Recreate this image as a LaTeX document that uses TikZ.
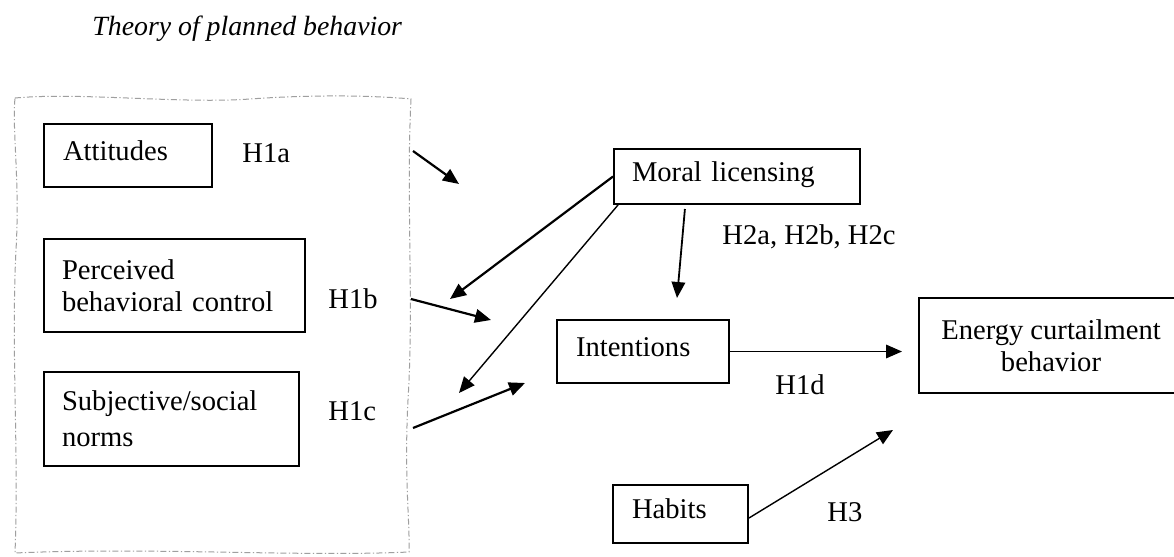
\documentclass[tikz,border=0pt]{standalone}
\usepackage{fontspec}
\setmainfont{Liberation Serif}
\usetikzlibrary{arrows.meta,calc}
\begin{document}
\begin{tikzpicture}[x=0.5pt,y=-0.5pt,
  font=\fontsize{14.3}{17}\selectfont,
  box/.style={draw, line width=1pt, inner ysep=0pt, align=left},
  one/.style={text height=0.7em, text depth=0.24em},
  lbl/.style={anchor=base west, inner sep=0pt},
  arr/.style={-{Triangle[length=8pt,width=6.8pt]}, line width=1.1pt},
  arrthin/.style={-{Triangle[length=8pt,width=6.8pt]}, line width=0.7pt},
  frame/.style={draw=gray!75, line width=0.5pt, dash pattern=on 3pt off 1.2pt on 0.6pt off 1.2pt}]
\clip (0,0) rectangle (1174,557);
\fill[white] (0,0) rectangle (1174,557);

% title
\node[lbl, font=\fontsize{13.9}{17}\selectfont\itshape] (title) at (92,35) {Theory of planned behavior};

% wavy dashed frame
\draw[frame] (15,98) .. controls (80,92) and (180,104) .. (250,99)
  .. controls (320,94) and (380,96) .. (411,99)
  .. controls (406,200) and (414,300) .. (408,400)
  .. controls (404,480) and (410,520) .. (409,552)
  .. controls (300,557) and (150,547) .. (15,553)
  .. controls (19,450) and (11,350) .. (16,250)
  .. controls (20,180) and (12,130) .. cycle;

% boxes
\node[box, one, minimum width=84pt, minimum height=31.5pt, text width=65pt, inner xsep=9.5pt] (att) at (128,155.5) {Attitudes};
\node[box, minimum width=130.5pt, minimum height=46.5pt, text width=112.5pt, inner xsep=9pt, font=\fontsize{14.3}{16}\selectfont] (pbc) at (174.5,285.5) {Perceived\\behavioral control};
\node[box, minimum width=127.5pt, minimum height=47pt, text width=109.5pt, inner xsep=9pt, font=\fontsize{14.3}{18}\selectfont] (sn) at (171.5,419) {Subjective/social\\norms};
\node[box, one, minimum width=123pt, minimum height=27.5pt, text width=105pt, inner xsep=9pt] (ml) at (737,176.5) {Moral licensing};
\node[box, one, minimum width=86pt, minimum height=31.5pt, text width=67pt, inner xsep=9.5pt] (int) at (643,351.5) {Intentions};
\node[box, one, minimum width=67.5pt, minimum height=29pt, text width=48.5pt, inner xsep=9.5pt] (hab) at (680.5,514) {Habits};
\node[box, align=center, minimum width=132pt, minimum height=47.5pt, font=\fontsize{14.3}{16}\selectfont] (ecb) at (1051,345.5) {Energy curtailment\\behavior};

% labels
\node[lbl] (h1a) at (242,162) {H1a};
\node[lbl] (h1b) at (328,308) {H1b};
\node[lbl] (h1c) at (328,420) {H1c};
\node[lbl] (h2) at (722,244) {H2a, H2b, H2c};
\node[lbl] (h1d) at (775,394) {H1d};
\node[lbl] (h3) at (827,521) {H3};

% free ends
\coordinate (a1s) at (413,151);
\coordinate (a1e) at (459,184);
\coordinate (abs) at (411,299);
\coordinate (abe) at (491,320);
\coordinate (acs) at (413,428);
\coordinate (ace) at (525,383);
\coordinate (m1e) at (450,299);
\coordinate (m2e) at (459,393);
\coordinate (m3e) at (677,298);
\coordinate (dE) at (902,351.5);
\coordinate (hE) at (893,430);

% connectors
\draw[arr] (a1s) -- (a1e);
\draw[arr] (abs) -- (abe);
\draw[arr] (acs) -- (ace);
\draw[arr] (ml.west) -- (m1e);
\draw[arrthin] ([xshift=2.5pt]ml.south west) -- (m2e);
\draw[arr, line width=0.9pt] ($(ml.south west)!0.29!(ml.south east)+(0,4)$) -- (m3e);
\draw[arrthin] (int.east) -- (dE);
\draw[arrthin] ([yshift=-2pt]hab.east) -- (hE);
\end{tikzpicture}
\end{document}
